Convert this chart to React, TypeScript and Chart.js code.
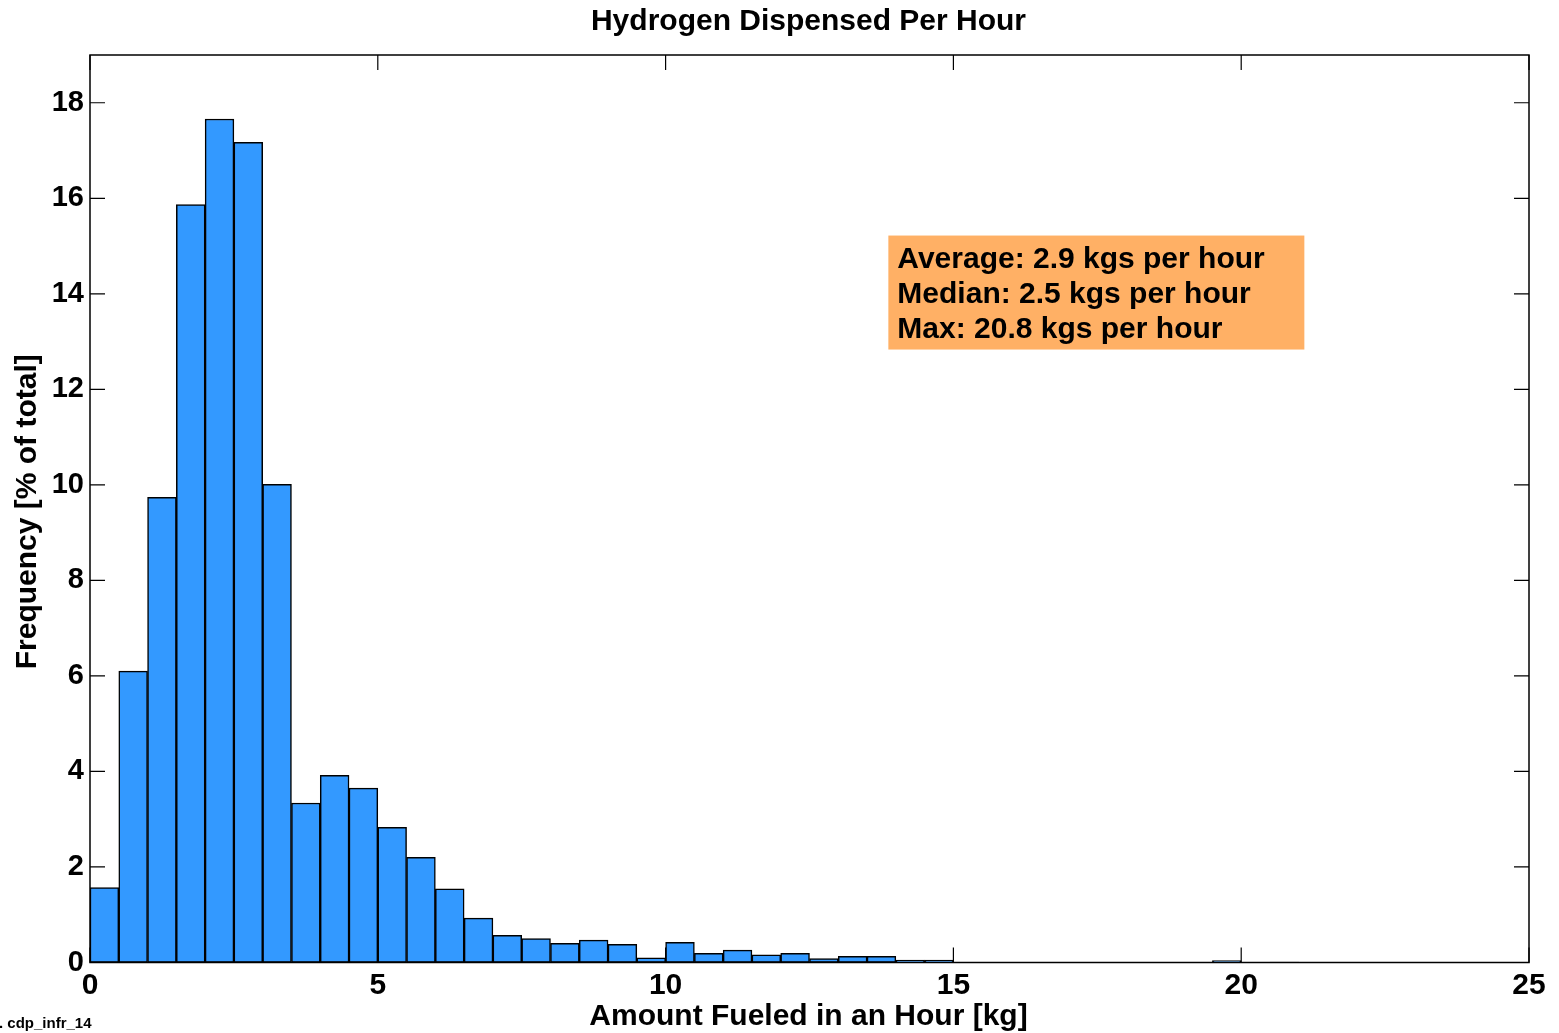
import React, { useEffect, useRef } from "react";
import { Chart, registerables } from "chart.js";

Chart.register(...registerables);

// Histogram bin centres (bin width 0.5 kg)
const binCenters = [
  0.25, 0.75, 1.25, 1.75, 2.25, 2.75, 3.25, 3.75, 4.25, 4.75,
  5.25, 5.75, 6.25, 6.75, 7.25, 7.75, 8.25, 8.75, 9.25, 9.75,
  10.25, 10.75, 11.25, 11.75, 12.25, 12.75, 13.25, 13.75, 14.25, 14.75,
  15.25, 15.75, 16.25, 16.75, 17.25, 17.75, 18.25, 18.75, 19.25, 19.75,
  20.25, 20.75,
];
// Frequency [% of total]
const frequency = [
  1.57, 6.1, 9.74, 15.87, 17.66, 17.17, 10.01, 3.34, 3.92, 3.65,
  2.83, 2.2, 1.54, 0.93, 0.57, 0.5, 0.4, 0.47, 0.38, 0.1,
  0.42, 0.19, 0.26, 0.16, 0.19, 0.08, 0.13, 0.13, 0.05, 0.05,
  0, 0, 0, 0, 0, 0, 0, 0, 0, 0.04,
  0, 0.01,
];
const xTicks = [0, 5, 10, 15, 20, 25];
const yTicks = [0, 2, 4, 6, 8, 10, 12, 14, 16, 18];

const titleText = "Hydrogen Dispensed Per Hour";
const xTitle = "Amount Fueled in an Hour [kg]";
const yTitle = "Frequency [% of total]";
const statsLines = [
  "Average: 2.9 kgs per hour",
  "Median: 2.5 kgs per hour",
  "Max: 20.8 kgs per hour",
];
const footnote = ". cdp_infr_14";

const FONT = "'Liberation Sans', Arial, Helvetica, sans-serif";

const decorPlugin = {
  id: "decor",
  afterDatasetsDraw(chart: any) {
    const { ctx, chartArea, scales } = chart;
    const { left, right, top, bottom } = chartArea;
    const xs = scales.x;
    const ys = scales.y;
    ctx.save();
    // frame
    ctx.strokeStyle = "#000";
    ctx.lineWidth = 1.5;
    ctx.strokeRect(left, top, right - left, bottom - top);
    // inward ticks
    const tl = 15;
    ctx.lineWidth = 1.2;
    ctx.beginPath();
    xTicks.forEach((v) => {
      const px = xs.getPixelForValue(v);
      ctx.moveTo(px, bottom);
      ctx.lineTo(px, bottom - tl);
      ctx.moveTo(px, top);
      ctx.lineTo(px, top + tl);
    });
    yTicks.forEach((v) => {
      const py = ys.getPixelForValue(v);
      ctx.moveTo(left, py);
      ctx.lineTo(left + tl, py);
      ctx.moveTo(right, py);
      ctx.lineTo(right - tl, py);
    });
    ctx.stroke();

    // annotation box
    const bx = xs.getPixelForValue(13.87);
    const by = ys.getPixelForValue(15.22);
    ctx.fillStyle = "#FFB065";
    ctx.fillRect(bx, by, 416, 114);
    ctx.fillStyle = "#000";
    ctx.font = `bold 30px ${FONT}`;
    ctx.textAlign = "left";
    ctx.textBaseline = "middle";
    statsLines.forEach((s, i) => {
      ctx.fillText(s, bx + 9, by + 24 + i * 35);
    });

    // title
    ctx.textAlign = "center";
    ctx.fillText(titleText, (left + right) / 2 - 1, 22);
    // x title
    ctx.fillText(xTitle, (left + right) / 2 - 1, 1017);
    // y title
    ctx.save();
    ctx.translate(28, (top + bottom) / 2 + 3);
    ctx.rotate(-Math.PI / 2);
    ctx.fillText(yTitle, 0, 0);
    ctx.restore();
    // footnote
    ctx.font = `bold 15px ${FONT}`;
    ctx.textAlign = "left";
    ctx.fillText(footnote, -1, 1024);
    ctx.restore();
  },
};

export default function App() {
  const ref = useRef<HTMLCanvasElement | null>(null);
  useEffect(() => {
    if (!ref.current) return;
    const chart = new Chart(ref.current, {
      type: "bar",
      data: {
        datasets: [
          {
            data: binCenters.map((x, i) => ({ x, y: frequency[i] })),
            backgroundColor: "#3399FF",
            borderColor: "#000",
            borderWidth: 1.5,
            borderSkipped: false,
            barPercentage: 1,
            categoryPercentage: 1,
          },
        ],
      },
      options: {
        responsive: false,
        animation: false,
        layout: { padding: { top: 55, right: 30, left: 0, bottom: 0 } },
        plugins: {
          legend: { display: false },
          tooltip: { enabled: false },
          title: { display: false },
        },
        scales: {
          x: {
            type: "linear",
            min: 0,
            max: 25,
            offset: false,
            grid: { display: false, drawTicks: false },
            border: { display: false },
            afterBuildTicks: (s: any) => {
              s.ticks = xTicks.map((v) => ({ value: v }));
            },
            afterFit: (s: any) => {
              s.height = 70.5;
            },
            ticks: {
              color: "#000",
              padding: 5,
              maxRotation: 0,
              autoSkip: false,
              font: { family: FONT, size: 30, weight: "bold" },
            },
          },
          y: {
            type: "linear",
            min: 0,
            max: 19,
            grid: { display: false, drawTicks: false },
            border: { display: false },
            afterBuildTicks: (s: any) => {
              s.ticks = yTicks.map((v) => ({ value: v }));
            },
            afterFit: (s: any) => {
              s.width = 90;
            },
            ticks: {
              color: "#000",
              padding: 6,
              autoSkip: false,
              font: { family: FONT, size: 29, weight: "bold" },
            },
          },
        },
      },
      plugins: [decorPlugin],
    } as any);
    return () => chart.destroy();
  }, []);
  return (
    <div style={{ position: "fixed", left: 0, top: 0, width: 1559, height: 1033, background: "#fff" }}>
      <canvas ref={ref} width={1559} height={1033} style={{ display: "block" }} />
    </div>
  );
}
